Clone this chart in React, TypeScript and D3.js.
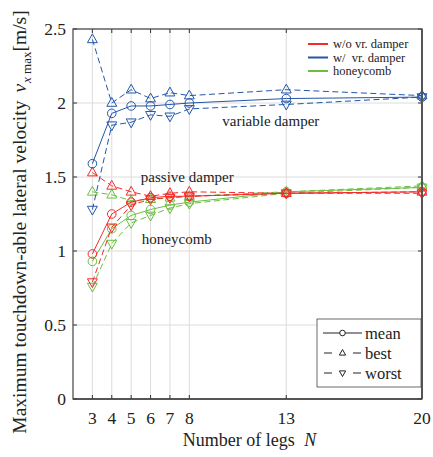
import { useRef, useEffect } from "react";
import * as d3 from "d3";

const legs = [3, 4, 5, 6, 7, 8, 13, 20];
const xTicks = [3, 4, 5, 6, 7, 8, 13, 20];
const yTicks = [0, 0.5, 1, 1.5, 2, 2.5];

// passive (w/o vr. damper)
const redMean = [0.98, 1.25, 1.33, 1.36, 1.37, 1.37, 1.39, 1.4];
const redBest = [1.53, 1.44, 1.4, 1.37, 1.39, 1.4, 1.39, 1.4];
const redWorst = [0.79, 1.16, 1.31, 1.35, 1.36, 1.37, 1.39, 1.39];
// variable damper
const blueMean = [1.59, 1.93, 1.98, 1.98, 1.99, 2.0, 2.03, 2.04];
const blueBest = [2.43, 2.0, 2.09, 2.03, 2.07, 2.05, 2.09, 2.05];
const blueWorst = [1.28, 1.85, 1.87, 1.92, 1.91, 1.96, 1.99, 2.04];
// honeycomb
const greenMean = [0.93, 1.15, 1.24, 1.28, 1.31, 1.33, 1.4, 1.43];
const greenBest = [1.4, 1.38, 1.34, 1.35, 1.36, 1.37, 1.4, 1.44];
const greenWorst = [0.76, 1.05, 1.19, 1.24, 1.29, 1.32, 1.39, 1.43];

const colorLabels = ["w/o vr. damper", "w/\u00a0 vr. damper", "honeycomb"];
const styleLabels = ["mean", "best", "worst"];

const RED = "#f52a2a";
const BLUE = "#2456ab";
const GREEN = "#6abf3f";

const width = 433,
  height = 457,
  marginTop = 29,
  marginRight = 11,
  marginBottom = 58,
  marginLeft = 73;

const font = "Liberation Serif";

function markerPath(kind, cx, cy, s) {
  if (kind === "up")
    return `M${cx},${cy - s}L${cx + s * 0.9},${cy + s * 0.6}L${cx - s * 0.9},${cy + s * 0.6}Z`;
  return `M${cx},${cy + s}L${cx + s * 0.9},${cy - s * 0.6}L${cx - s * 0.9},${cy - s * 0.6}Z`;
}

export default function App() {
  const gx = useRef(),
    gy = useRef(),
    linesRef = useRef();

  const x = d3.scaleLinear().domain([2, 20]).range([marginLeft, width - marginRight]);
  const y = d3.scaleLinear().domain([0, 2.5]).range([height - marginBottom, marginTop]);

  const series = [
    { color: GREEN, kind: "mean", values: greenMean },
    { color: GREEN, kind: "best", values: greenBest },
    { color: GREEN, kind: "worst", values: greenWorst },
    { color: RED, kind: "mean", values: redMean },
    { color: RED, kind: "best", values: redBest },
    { color: RED, kind: "worst", values: redWorst },
    { color: BLUE, kind: "mean", values: blueMean },
    { color: BLUE, kind: "best", values: blueBest },
    { color: BLUE, kind: "worst", values: blueWorst },
  ];

  useEffect(() => {
    const line = d3
      .line()
      .x((d) => x(d[0]))
      .y((d) => y(d[1]));

    const groups = d3
      .select(linesRef.current)
      .selectAll("g")
      .data(series)
      .join("g");

    groups.each(function (s) {
      const g = d3.select(this);
      g.selectAll("*").remove();
      const pts = legs.map((n, i) => [n, s.values[i]]);
      g.append("path")
        .attr("d", line(pts))
        .attr("fill", "none")
        .attr("stroke", s.color)
        .attr("stroke-width", 1)
        .attr("stroke-dasharray", s.kind === "mean" ? null : "6,3.5");
      if (s.kind === "mean") {
        g.selectAll("circle")
          .data(pts)
          .join("circle")
          .attr("cx", (d) => x(d[0]))
          .attr("cy", (d) => y(d[1]))
          .attr("r", 4.3)
          .attr("fill", "none")
          .attr("stroke", s.color);
      } else {
        g.selectAll("path.m")
          .data(pts)
          .join("path")
          .attr("class", "m")
          .attr("d", (d) => markerPath(s.kind === "best" ? "up" : "down", x(d[0]), y(d[1]), 5.5))
          .attr("fill", "none")
          .attr("stroke", s.color);
      }
    });
  });

  useEffect(() => {
    const g = d3.select(gx.current);
    g.selectAll("*").remove();
    g.selectAll("line.grid")
      .data(xTicks)
      .join("line")
      .attr("class", "grid")
      .attr("x1", (d) => x(d))
      .attr("x2", (d) => x(d))
      .attr("y1", marginTop)
      .attr("y2", height - marginBottom)
      .attr("stroke", "#dcdcdc");
    g.selectAll("text")
      .data(xTicks)
      .join("text")
      .attr("x", (d) => x(d))
      .attr("y", height - marginBottom + 25)
      .attr("text-anchor", "middle")
      .attr("font-family", font)
      .text((d) => d);
    g.selectAll("line.tb")
      .data(xTicks)
      .join("line")
      .attr("class", "tb")
      .attr("x1", (d) => x(d))
      .attr("x2", (d) => x(d))
      .attr("y1", height - marginBottom)
      .attr("y2", height - marginBottom - 4)
      .attr("stroke", "#333");
    g.selectAll("line.tt")
      .data(xTicks)
      .join("line")
      .attr("class", "tt")
      .attr("x1", (d) => x(d))
      .attr("x2", (d) => x(d))
      .attr("y1", marginTop)
      .attr("y2", marginTop + 4)
      .attr("stroke", "#333");
  });

  useEffect(() => {
    const g = d3.select(gy.current);
    g.selectAll("*").remove();
    g.selectAll("line.grid")
      .data(yTicks)
      .join("line")
      .attr("class", "grid")
      .attr("x1", marginLeft)
      .attr("x2", width - marginRight)
      .attr("y1", (d) => y(d))
      .attr("y2", (d) => y(d))
      .attr("stroke", "#dcdcdc");
    g.selectAll("text")
      .data(yTicks)
      .join("text")
      .attr("x", marginLeft - 7)
      .attr("y", (d) => y(d))
      .attr("dy", "0.35em")
      .attr("text-anchor", "end")
      .attr("font-family", font)
      .text((d) => d);
    g.selectAll("line.tl")
      .data(yTicks)
      .join("line")
      .attr("class", "tl")
      .attr("x1", marginLeft)
      .attr("x2", marginLeft + 4)
      .attr("y1", (d) => y(d))
      .attr("y2", (d) => y(d))
      .attr("stroke", "#333");
    g.selectAll("line.tr")
      .data(yTicks)
      .join("line")
      .attr("class", "tr")
      .attr("x1", width - marginRight)
      .attr("x2", width - marginRight - 4)
      .attr("y1", (d) => y(d))
      .attr("y2", (d) => y(d))
      .attr("stroke", "#333");
  });

  const legColors = [RED, BLUE, GREEN];
  const plotRight = width - marginRight;
  const plotBottom = height - marginBottom;

  return (
    <svg
      width={width}
      height={height}
      viewBox={[0, 0, width, height]}
      style={{ position: "absolute", left: 0, top: 0, background: "#fff" }}
    >
      <g ref={gy} fontSize="17.5" fill="#222"></g>
      <g ref={gx} fontSize="17.5" fill="#222"></g>
      <g ref={linesRef}></g>
      <rect
        x={marginLeft}
        y={marginTop}
        width={plotRight - marginLeft}
        height={plotBottom - marginTop}
        fill="none"
        stroke="#444"
        strokeWidth={1.2}
      />
      <line x1={plotRight} x2={plotRight} y1={marginTop} y2={plotBottom} stroke="#555" strokeWidth={2} />
      <line x1={marginLeft} x2={plotRight} y1={plotBottom} y2={plotBottom} stroke="#444" strokeWidth={1.5} />

      {/* annotations */}
      <text x={x(9.7)} y={y(1.845)} fontSize="15" fill="#222" fontFamily={font}>variable damper</text>
      <text x={x(5.5)} y={y(1.466)} fontSize="15" fill="#222" fontFamily={font}>passive damper</text>
      <text x={x(5.55)} y={y(1.047)} fontSize="15" fill="#222" fontFamily={font}>honeycomb</text>

      {/* colour legend */}
      {colorLabels.map((l, i) => (
        <g key={l} transform={`translate(308,${44 + i * 13.5})`}>
          <line x1={0} x2={20} y1={0} y2={0} stroke={legColors[i]} strokeWidth={2} />
          <text x={25} y={0} dy="0.35em" fontSize="12.5" fill="#222" fontFamily={font}>{l}</text>
        </g>
      ))}

      {/* style legend */}
      <rect x={317} y={319} width={104} height={68} fill="#fff" stroke="#444" strokeWidth={0.8} />
      {styleLabels.map((l, i) => {
        const cy = 333 + i * 20;
        return (
          <g key={l}>
            {i === 0 ? (
              <>
                <line x1={323} x2={362} y1={cy} y2={cy} stroke="#222" strokeWidth={1} />
                <circle cx={342.5} cy={cy} r={2.8} fill="#fff" stroke="#222" />
              </>
            ) : (
              <>
                <line x1={324} x2={332} y1={cy} y2={cy} stroke="#222" strokeWidth={1} />
                <line x1={353} x2={361} y1={cy} y2={cy} stroke="#222" strokeWidth={1} />
                <path d={markerPath(i === 1 ? "up" : "down", 342.5, cy, 3.5)} fill="none" stroke="#222" />
              </>
            )}
            <text x={365} y={cy} dy="0.35em" fontSize="16.5" fill="#222" fontFamily={font}>{l}</text>
          </g>
        );
      })}

      {/* axis titles */}
      <text x={(marginLeft + plotRight) / 2 + 2} y={446} textAnchor="middle" fontSize="18" fill="#222" fontFamily={font}>
        Number of legs <tspan fontStyle="italic" dx="5">N</tspan>
      </text>
      <text
        transform={`translate(26,222) rotate(-90)`}
        textAnchor="middle"
        fontSize="19.5"
        fill="#222"
        fontFamily={font}
      >
        Maximum touchdown-able lateral velocity
        <tspan fontStyle="italic" dx="8">v</tspan>
        <tspan fontSize="13" dy="5" dx="1"><tspan fontStyle="italic">x</tspan> max</tspan>
        <tspan dy="-5">[m/s]</tspan>
      </text>
    </svg>
  );
}
